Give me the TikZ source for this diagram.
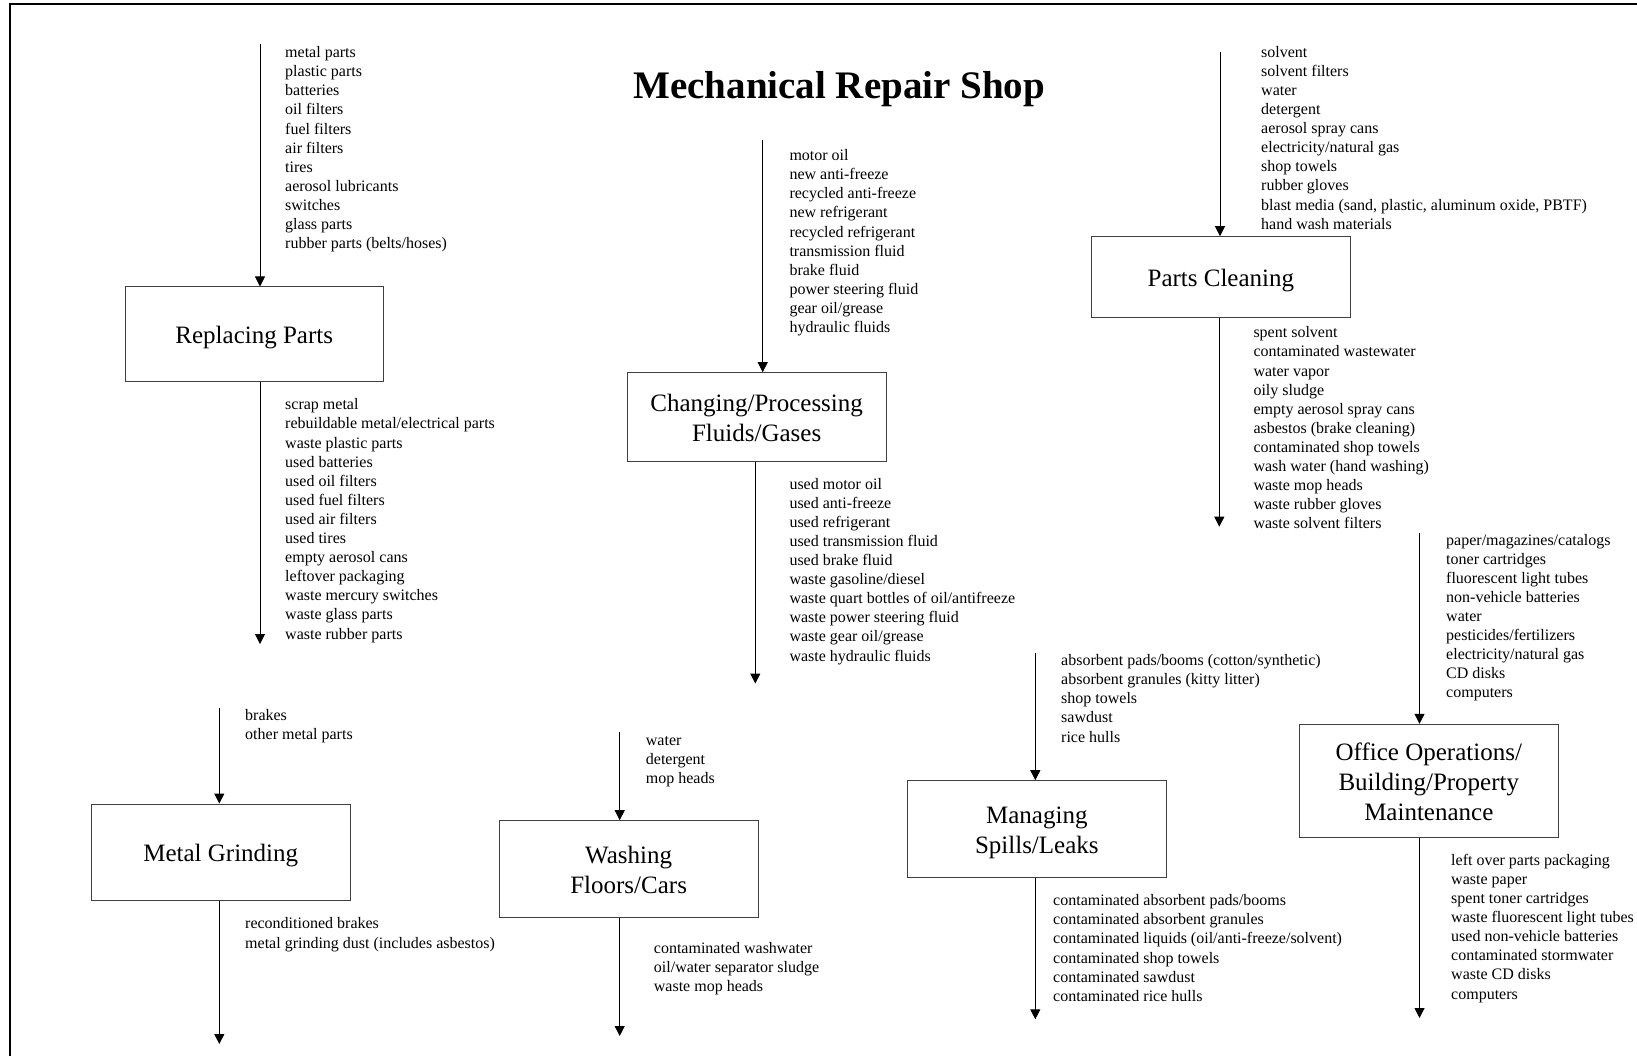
\documentclass[tikz,border=0pt]{standalone}
\usepackage{fontspec}
\setmainfont{Liberation Serif}[Ligatures={TeX,NoCommon}]
\usetikzlibrary{arrows.meta}
\tikzset{
  proc/.style={draw=black!75, line width=1pt, align=center, inner sep=0pt,
    font=\fontsize{25}{30}\selectfont, text depth=2.6pt, text height=22pt},
  proc2/.style={proc, text height=52pt},
  proc3/.style={proc, text height=82pt},
  lst/.style={anchor=base west, align=left, inner sep=0pt,
    font=\fontsize{16}{19.1}\selectfont},
  arr/.style={draw=black, line width=1pt, -{Triangle[width=10pt,length=10pt]}},
  frame/.style={line width=2pt, draw=black}
}
\begin{document}
\begin{tikzpicture}[x=1pt,y=-1pt]
\useasboundingbox (0,0) rectangle (1637,1056);
\fill[white] (0,0) rectangle (1637,1056);
\draw[frame] (10,1057) -- (10,3.7) -- (1638,3.7);

\node[anchor=base, font=\fontsize{39}{46}\selectfont\bfseries, inner sep=0pt] (title) at (839.2,98.3) {Mechanical Repair Shop};

% boxes
\node[proc, minimum width=258.5pt, minimum height=94pt] (rp) at (254.25,334) {Replacing Parts};
\node[proc2, minimum width=258.7pt, minimum height=88.3pt] (chg) at (756.65,416.85) {Changing/Processing\\Fluids/Gases};
\node[proc, minimum width=258.3pt, minimum height=80.6pt] (pc) at (1220.85,277) {Parts Cleaning};
\node[proc3, minimum width=259pt, minimum height=112.7pt] (off) at (1428.8,780.65) {Office Operations/\\Building/Property\\Maintenance};
\node[proc, minimum width=258.5pt, minimum height=96.5pt] (mg) at (220.75,852.25) {Metal Grinding};
\node[proc2, minimum width=258.7pt, minimum height=96.3pt] (wash) at (628.65,868.85) {Washing\\Floors/Cars};
\node[proc2, minimum width=259pt, minimum height=96.3pt] (man) at (1036.8,828.85) {Managing\\Spills/Leaks};

% free arrow ends
\coordinate (rpin) at (260,44.3);
\coordinate (rpout) at (260,644);
\coordinate (chgin) at (762.7,140);
\coordinate (chgout) at (755.3,683.5);
\coordinate (pcin) at (1220,52.3);
\coordinate (pcout) at (1219.3,526.7);
\coordinate (offin) at (1419.5,532.7);
\coordinate (offout) at (1419.5,1018);
\coordinate (mgin) at (219.3,708);
\coordinate (mgout) at (219.3,1044);
\coordinate (washin) at (619.7,732.3);
\coordinate (washout) at (619.7,1036);
\coordinate (manin) at (1035.3,652.7);
\coordinate (manout) at (1035.3,1019.3);

\draw[arr] (rpin) -- (rpin |- rp.north);
\draw[arr] (rpout |- rp.south) -- (rpout);
\draw[arr] (chgin) -- (chgin |- chg.north);
\draw[arr] (chgout |- chg.south) -- (chgout);
\draw[arr] (pcin) -- (pcin |- pc.north);
\draw[arr] (pcout |- pc.south) -- (pcout);
\draw[arr] (offin) -- (offin |- off.north);
\draw[arr] (offout |- off.south) -- (offout);
\draw[arr] (mgin) -- (mgin |- mg.north);
\draw[arr] (mgout |- mg.south) -- (mgout);
\draw[arr] (washin) -- (washin |- wash.north);
\draw[arr] (washout |- wash.south) -- (washout);
\draw[arr] (manin) -- (manin |- man.north);
\draw[arr] (manout |- man.south) -- (manout);

% lists (anchored at the baseline of their last line)
\node[lst] (rpinl) at (285,248.7) {metal parts\\plastic parts\\batteries\\oil filters\\fuel filters\\air filters\\tires\\aerosol lubricants\\switches\\glass parts\\rubber parts (belts/hoses)};
\node[lst] (rpoutl) at (285,639) {scrap metal\\rebuildable metal/electrical parts\\waste plastic parts\\used batteries\\used oil filters\\used fuel filters\\used air filters\\used tires\\empty aerosol cans\\leftover packaging\\waste mercury switches\\waste glass parts\\waste rubber parts};
\node[lst] (chginl) at (789.3,332.5) {motor oil\\new anti-freeze\\recycled anti-freeze\\new refrigerant\\recycled refrigerant\\transmission fluid\\brake fluid\\power steering fluid\\gear oil/grease\\hydraulic fluids};
\node[lst] (chgoutl) at (789.3,661) {used motor oil\\used anti-freeze\\used refrigerant\\used transmission fluid\\used brake fluid\\waste gasoline/diesel\\waste quart bottles of oil/antifreeze\\waste power steering fluid\\waste gear oil/grease\\waste hydraulic fluids};
\node[lst] (pcinl) at (1261,229.2) {solvent\\solvent filters\\water\\detergent\\aerosol spray cans\\electricity/natural gas\\shop towels\\rubber gloves\\blast media (sand, plastic, aluminum oxide, PBTF)\\hand wash materials};
\node[lst] (pcoutl) at (1253.3,528.8) {spent solvent\\contaminated wastewater\\water vapor\\oily sludge\\empty aerosol spray cans\\asbestos (brake cleaning)\\contaminated shop towels\\wash water (hand washing)\\waste mop heads\\waste rubber gloves\\waste solvent filters};
\node[lst] (offinl) at (1446,697.8) {paper/magazines/catalogs\\toner cartridges\\fluorescent light tubes\\non-vehicle batteries\\water\\pesticides/fertilizers\\electricity/natural gas\\CD disks\\computers};
\node[lst] (offoutl) at (1451,999) {left over parts packaging\\waste paper\\spent toner cartridges\\waste fluorescent light tubes\\used non-vehicle batteries\\contaminated stormwater\\waste CD disks\\computers};
\node[lst] (mginl) at (245,739.5) {brakes\\other metal parts};
\node[lst] (mgoutl) at (245,948) {reconditioned brakes\\metal grinding dust (includes asbestos)};
\node[lst] (washinl) at (645.7,783.8) {water\\detergent\\mop heads};
\node[lst] (washoutl) at (653.7,991.5) {contaminated washwater\\oil/water separator sludge\\waste mop heads};
\node[lst] (maninl) at (1061,742) {absorbent pads/booms (cotton/synthetic)\\absorbent granules (kitty litter)\\shop towels\\sawdust\\rice hulls};
\node[lst] (manoutl) at (1053,1001.2) {contaminated absorbent pads/booms\\contaminated absorbent granules\\contaminated liquids (oil/anti-freeze/solvent)\\contaminated shop towels\\contaminated sawdust\\contaminated rice hulls};
\end{tikzpicture}
\end{document}
